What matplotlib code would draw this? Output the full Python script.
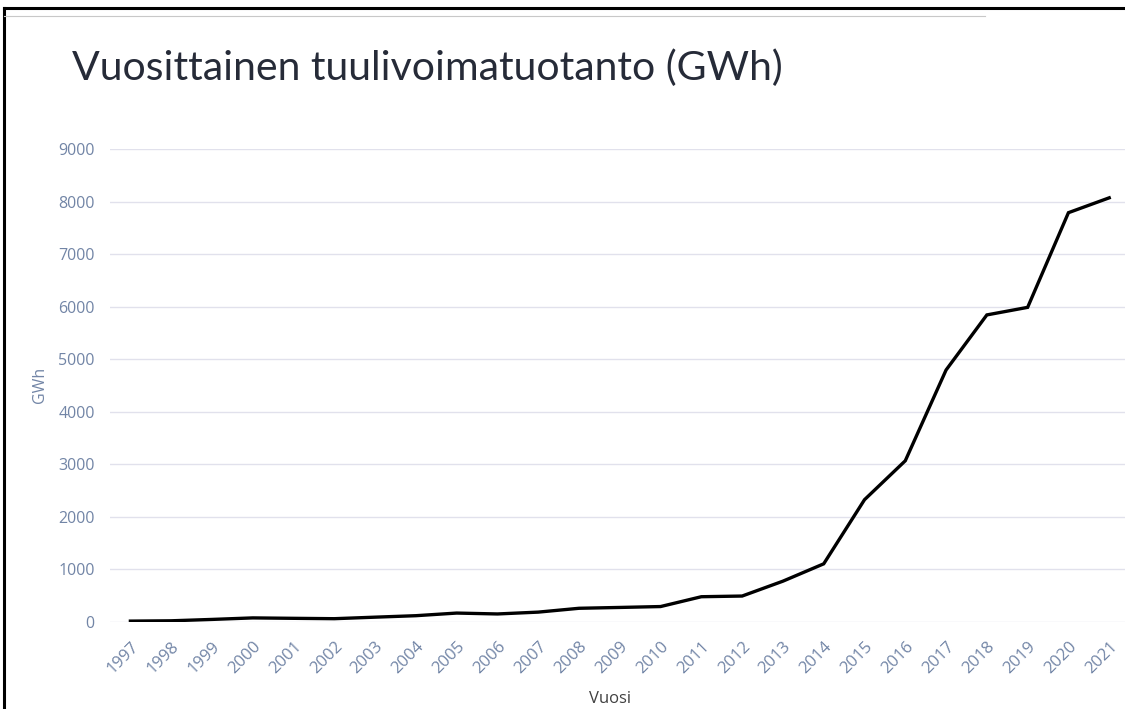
import matplotlib
matplotlib.use("Agg")
import matplotlib.pyplot as plt
from matplotlib.lines import Line2D

years = list(range(1997, 2022))
production = [17, 23, 49, 78, 70, 63, 92, 120, 170, 153, 188, 261, 277, 294,
              481, 494, 777, 1107, 2327, 3068, 4795, 5843, 5987, 7788, 8071]
yticks = list(range(0, 9001, 1000))
title = "Vuosittainen tuulivoimatuotanto (GWh)"
xlabel = "Vuosi"
ylabel = "GWh"

W, H = 1125, 709
fig = plt.figure(figsize=(W / 100, H / 100), dpi=100)
fig.patch.set_facecolor("white")

left, right, bottom, top = 110, 1129.6, 87, 560
ax = fig.add_axes([left / W, bottom / H, (right - left) / W, (top - bottom) / H])
ax.plot(years, production, color="black", lw=2.4, solid_joinstyle="miter")
ax.set_xlim(1996.5, 2021.5)
ax.set_ylim(0, 9000)
ax.set_yticks(yticks)
ax.set_xticks(years)
tick_color = "#7285a6"
ax.set_xticklabels([str(y) for y in years], rotation=45, ha="right",
                   rotation_mode="anchor", color=tick_color, fontsize=12,
                   family="Open Sans")
ax.set_yticklabels([str(v) for v in yticks], color=tick_color, fontsize=11.5,
                   family="Open Sans")
ax.tick_params(axis="both", length=0)
ax.tick_params(axis="y", pad=11)
ax.tick_params(axis="x", pad=12)
ax.grid(axis="y", color="#e1e1ec", lw=1)
ax.set_axisbelow(True)
for s in ax.spines.values():
    s.set_visible(False)

fig.text(610 / W, 1 - 699 / H, xlabel, ha="center", va="center",
         color="#404040", fontsize=12, family="Open Sans")
fig.text(40 / W, 1 - 385 / H, ylabel, ha="center", va="center", rotation=90,
         color=tick_color, fontsize=11.5, family="Open Sans")

fig.text(72 / W, 1 - 80 / H, title, ha="left", va="baseline", color="#262b38",
         fontsize=29.5, family="Lato")

# frame lines of the screenshot
fig.add_artist(Line2D([4 / W, 4 / W], [0, 1 - 8 / H], color="black", lw=2.2,
                      transform=fig.transFigure))
fig.add_artist(Line2D([4 / W, 1], [1 - 8 / H, 1 - 8 / H], color="black", lw=2.2,
                      transform=fig.transFigure))
fig.add_artist(Line2D([4 / W, 985 / W], [1 - 16 / H, 1 - 16 / H], color="#c8c8c8",
                      lw=0.8, transform=fig.transFigure))

fig.savefig("out.png", dpi=100)
